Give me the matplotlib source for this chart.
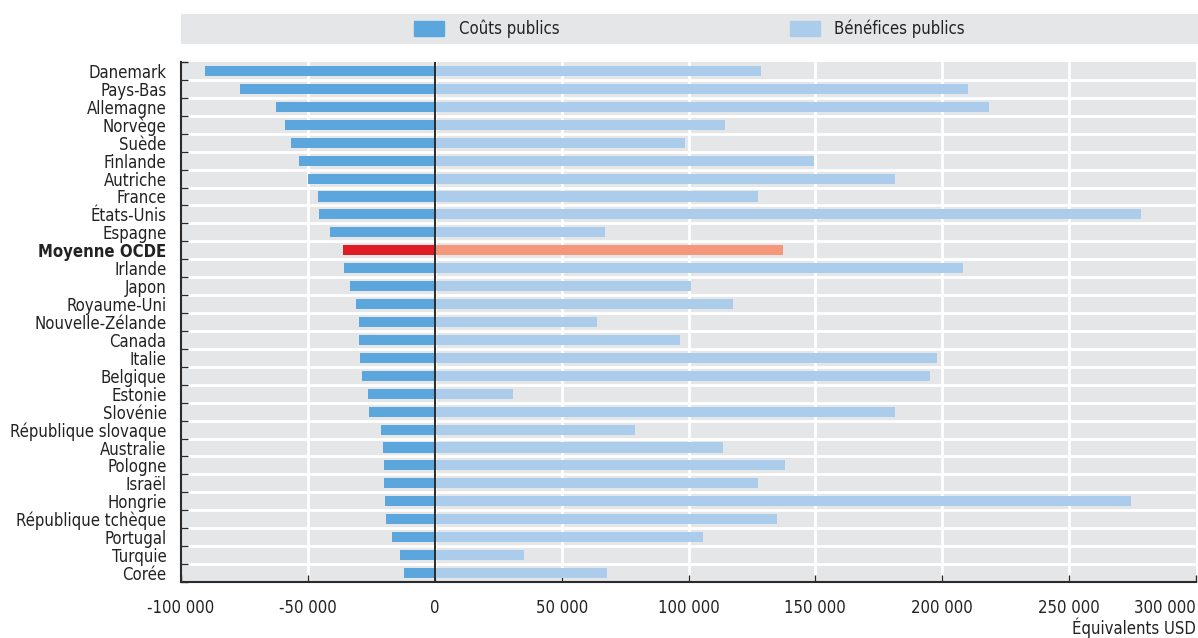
import matplotlib.pyplot as plt
from matplotlib.patches import Patch
from matplotlib.ticker import FuncFormatter, FixedLocator
import numpy as np

plt.rcParams['font.family'] = ['Liberation Sans Narrow', 'DejaVu Sans Condensed', 'DejaVu Sans']
plt.rcParams['font.stretch'] = 'condensed'

countries = ['Danemark', 'Pays-Bas', 'Allemagne', 'Norvège', 'Suède', 'Finlande',
             'Autriche', 'France', 'États-Unis', 'Espagne', 'Moyenne OCDE', 'Irlande',
             'Japon', 'Royaume-Uni', 'Nouvelle-Zélande', 'Canada', 'Italie', 'Belgique',
             'Estonie', 'Slovénie', 'République slovaque', 'Australie', 'Pologne',
             'Israël', 'Hongrie', 'République tchèque', 'Portugal', 'Turquie', 'Corée']

costs = [-90600, -76800, -62600, -59100, -56700, -53500, -50000, -46100, -45700,
         -41300, -36200, -35800, -33500, -31100, -29900, -29900, -29500, -28700,
         -26400, -26000, -21300, -20500, -20100, -20100, -19700, -19300, -16900,
         -13800, -12200]

benefits = [128700, 210200, 218500, 114200, 98800, 149600, 181500, 127200, 278300,
            66900, 137400, 208300, 100800, 117700, 63800, 96500, 198000, 195300,
            30700, 181500, 79100, 113400, 138200, 127200, 274400, 135000, 105900,
            35000, 67700]

c_cost = '#5ba7dd'
c_ben = '#abcdeb'
c_cost_avg = '#e01b24'
c_ben_avg = '#f4977a'
bg = '#e5e6e8'
dark = '#2b2b2b'
txt = '#222222'

fig = plt.figure(figsize=(11.98, 6.38), dpi=100)
W, H = 1198, 638
ax = fig.add_axes([181 / W, 1 - 582 / H, (1196 - 181) / W, (582 - 62) / H])
ax.set_facecolor(bg)

y = np.arange(len(countries))
cost_cols = [c_cost_avg if c == 'Moyenne OCDE' else c_cost for c in countries]
ben_cols = [c_ben_avg if c == 'Moyenne OCDE' else c_ben for c in countries]
ax.barh(y, costs, height=0.56, color=cost_cols, zorder=3)
ax.barh(y, benefits, height=0.56, color=ben_cols, zorder=3)
ax.axvline(0, color=dark, lw=1.4, zorder=4)

ax.set_ylim(len(countries) - 0.5, -0.5)
ax.set_xlim(-100000, 300000)

# white separators between rows
for b in np.arange(len(countries) - 1) + 0.5:
    ax.axhline(b, color='white', lw=2, zorder=1)
xt = np.arange(-100000, 300001, 50000)
for v in xt[1:-1]:
    ax.axvline(v, color='white', lw=2, zorder=1)

ax.set_xticks(xt)
ax.xaxis.set_major_formatter(FuncFormatter(lambda v, p: f'{int(v):,}'.replace(',', ' ')))
ax.tick_params(axis='x', direction='in', length=5, width=1, color=dark, labelsize=12,
               pad=12, labelcolor=txt)
xlabs = ax.get_xticklabels()
xlabs[-1].set_horizontalalignment('right')

ax.set_yticks(y)
ax.set_yticklabels(countries)
ax.tick_params(axis='y', which='major', length=0, labelsize=12, pad=10.5, labelcolor=txt)
ax.yaxis.set_minor_locator(FixedLocator(np.arange(len(countries) + 1) - 0.5))
ax.tick_params(axis='y', which='minor', direction='in', length=5, width=1, color=dark)
for lab in ax.get_yticklabels():
    if lab.get_text() == 'Moyenne OCDE':
        lab.set_fontweight('bold')

for s in ['top', 'right']:
    ax.spines[s].set_visible(False)
ax.spines['left'].set_color(dark)
ax.spines['left'].set_linewidth(1.5)
ax.spines['bottom'].set_color(dark)
ax.spines['bottom'].set_linewidth(1.5)

fig.text(1196 / W, 1 - 628 / H, 'Équivalents USD', ha='right', va='center',
         fontsize=12, color=txt)

# legend band
lax = fig.add_axes([181 / W, 1 - 44 / H, (W - 181) / W, 30 / H])
lax.set_facecolor(bg)
lax.set_xticks([])
lax.set_yticks([])
for s in lax.spines.values():
    s.set_visible(False)
handles = [Patch(color=c_cost, label='Coûts publics'),
           Patch(color=c_ben, label='Bénéfices publics')]
lax.legend(handles=handles, loc='center', ncol=2, frameon=False, fontsize=12,
           handlelength=1.8, handleheight=1.0, columnspacing=13.8, handletextpad=0.9,
           labelcolor=txt)

fig.savefig('out.png', dpi=100)
